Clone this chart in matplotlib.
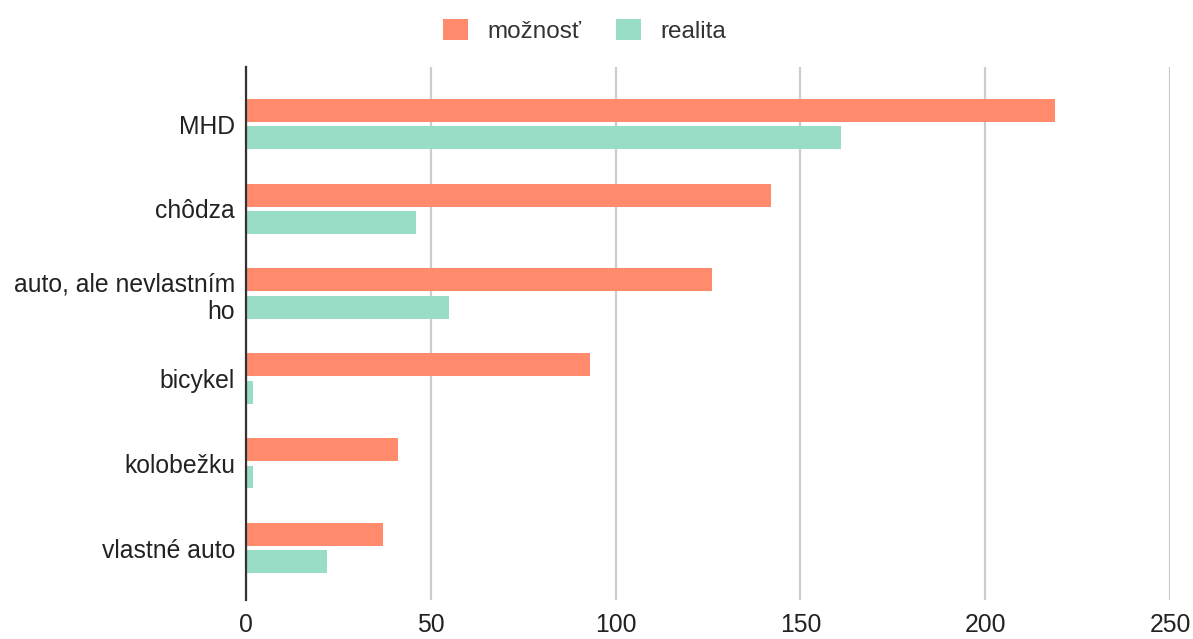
import numpy as np
from matplotlib import pyplot as plt

plt.rcParams['font.family'] = ['Liberation Sans', 'DejaVu Sans']

categories = ['MHD', 'chôdza', 'auto, ale nevlastním\nho', 'bicykel', 'kolobežku', 'vlastné auto']
moznost = [219, 142, 126, 93, 41, 37]
realita = [161, 46, 55, 2, 2, 22]
series_names = ['možnosť', 'realita']
colors = ['#FF8A6C', '#99DDC7']

fig = plt.figure(figsize=(11.93, 6.39), dpi=100)
ax = fig.add_axes([0.2062, 0.061, 0.7745, 0.834])

y = np.arange(len(categories))
h = 0.27
off = 0.162

ax.barh(y - off, moznost, height=h, color=colors[0], label=series_names[0], zorder=3)
ax.barh(y + off, realita, height=h, color=colors[1], label=series_names[1], zorder=3)

ax.set_xlim(0, 250)
ax.set_ylim(5.613, -0.672)
ax.set_xticks([0, 50, 100, 150, 200, 250])
ax.set_yticks(y)
ax.set_yticklabels(categories)

ax.grid(axis='x', color='#cccccc', linewidth=1.6, zorder=0)
for s in ['top', 'right', 'bottom']:
    ax.spines[s].set_visible(False)
ax.spines['left'].set_color('#333333')
ax.spines['left'].set_linewidth(1.6)
ax.spines['left'].set_zorder(4)
ax.tick_params(axis='both', length=0, labelsize=17.8, colors='#222222')
ax.tick_params(axis='y', pad=8)
ax.tick_params(axis='x', pad=9)

fig.legend(loc='upper center', bbox_to_anchor=(0.49, 1.005), ncol=2, frameon=False,
           fontsize=17.5, handlelength=1.0, handleheight=1.0, columnspacing=1.45,
           handletextpad=0.8, labelcolor='#333333')

fig.savefig('out.png', dpi=100)
